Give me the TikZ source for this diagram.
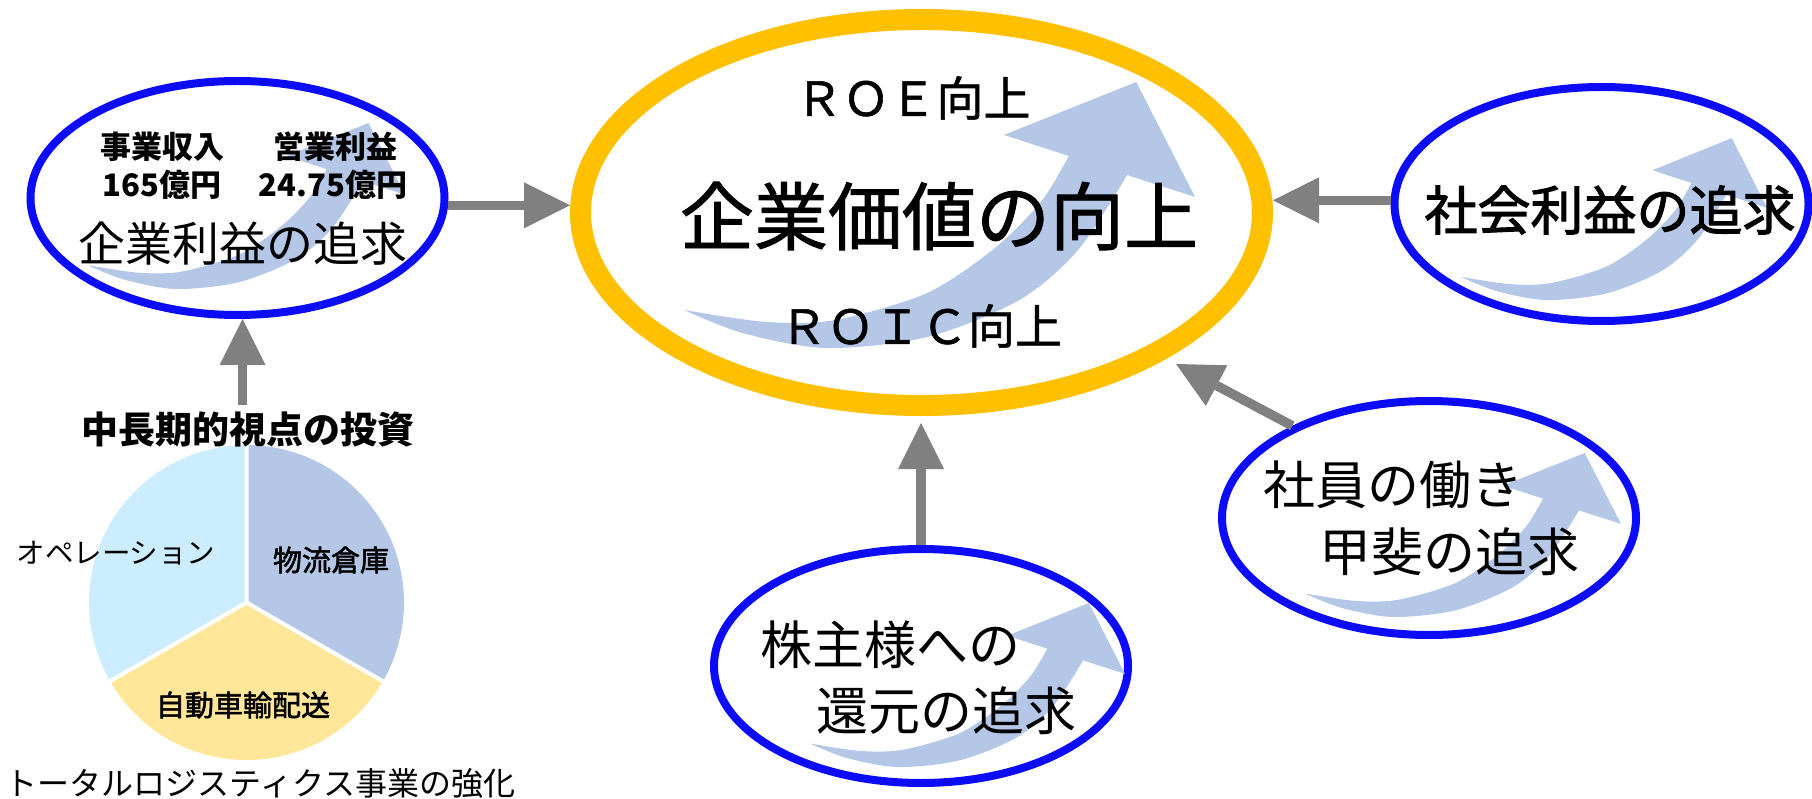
\documentclass[tikz,border=0pt]{standalone}
\usepackage{fontspec}
\setmainfont{Noto Sans CJK JP}
\newfontfamily\jpsemi[FakeBold=2]{Noto Sans CJK JP}
\newfontfamily\jpmid[FakeBold=1.2]{Noto Sans CJK JP}
\usetikzlibrary{arrows.meta,shapes.geometric}
\definecolor{ellblue}{RGB}{12,12,250}
\definecolor{ellyellow}{RGB}{255,192,0}
\definecolor{arrgray}{RGB}{128,128,128}
\definecolor{clipblue}{RGB}{180,199,231}
\definecolor{pieblue}{RGB}{204,236,255}
\definecolor{piesteel}{RGB}{180,199,231}
\definecolor{pieyellow}{RGB}{255,230,153}
\newcommand{\jfs}[1]{\fontsize{#1pt}{#1pt}\selectfont}
\newcommand{\mycurvearrow}[4]{%
  \begin{scope}[shift={(#1,#2)},xscale=#3,yscale=#4]
    \fill[clipblue] (0,0.857) -- plot[smooth] coordinates {(0,0.857) (0.115,0.944) (0.278,1.0) (0.476,0.959) (0.656,0.820) (0.771,0.632) (0.867,0.350)}
      -- (1,0.432) -- (0.885,0) -- (0.626,0.199)
      -- plot[smooth] coordinates {(0.753,0.278) (0.701,0.444) (0.611,0.620) (0.476,0.793) (0.295,0.895) (0.160,0.902) (0,0.857)} -- cycle;
  \end{scope}}
\begin{document}
\begin{tikzpicture}[x=1pt,y=-1pt,
  bluee/.style={ellipse,draw=ellblue,line width=8pt,minimum width=414pt,minimum height=234pt,inner sep=0pt},
  centere/.style={ellipse,draw=ellyellow,line width=21pt,minimum width=682pt,minimum height=386pt,inner sep=0pt},
  garr/.style={draw=arrgray,line width=9.5pt,-{Triangle[length=46pt,width=46pt,line width=0pt]}},
  txt/.style={inner sep=0pt,anchor=center,text=black}]
\useasboundingbox (0,0) rectangle (1812,799);
% ellipses
\node[bluee] (kigyo) at (237.5,198) {};
\node[centere] (kachi) at (921.5,212.5) {};
\node[bluee] (shakai) at (1601.5,204) {};
\node[bluee] (shain) at (1429,518) {};
\node[bluee] (kabu) at (921,666) {};
% decorative curved arrows
\mycurvearrow{88}{123}{317}{166}
\mycurvearrow{684}{82}{511}{266}
\mycurvearrow{1461}{138}{306}{162}
\mycurvearrow{1305}{453}{316}{164}
\mycurvearrow{810}{603}{315}{164}
% pie
\coordinate (pc) at (246.5,602.5);
\fill[pieblue] (pc) -- plot[domain=90:210,samples=60] ({246.5+157.5*cos(\x)},{602.5-157.5*sin(\x)}) -- cycle;
\fill[piesteel] (pc) -- plot[domain=-30:90,samples=60] ({246.5+157.5*cos(\x)},{602.5-157.5*sin(\x)}) -- cycle;
\fill[pieyellow] (pc) -- plot[domain=210:330,samples=60] ({246.5+157.5*cos(\x)},{602.5-157.5*sin(\x)}) -- cycle;
\draw[white,line width=4pt] (pc) -- ++(0,-158) (pc) -- ++({158*cos(210)},{-158*sin(210)}) (pc) -- ++({158*cos(330)},{-158*sin(330)});
% texts
\node[txt,font=\bfseries\jfs{31}] (t1) at (162,147) {事業収入};
\node[txt,font=\bfseries\jfs{31}] (t2) at (335,147) {営業利益};
\node[txt,font=\bfseries\jfs{31}] (t3) at (162,185) {165億円};
\node[txt,font=\bfseries\jfs{31}] (t4) at (333,185) {24.75億円};
\node[txt,font=\jfs{47}] (t5) at (243,244) {企業利益の追求};
\node[txt,font=\jpmid\jfs{47}] (t6) at (913,98) {ＲＯＥ向上};
\node[txt,font=\jpmid\jfs{74}] (t7) at (939,216) {企業価値の向上};
\node[txt,font=\jpmid\jfs{47}] (t8) at (921,326) {ＲＯＩＣ向上};
\node[txt,font=\jpsemi\jfs{53}] (t9) at (1610,210) {社会利益の追求};
\node[txt,font=\jfs{52}] (t10) at (1393,485) {社員の働き};
\node[txt,font=\jfs{52}] (t11) at (1449,552) {甲斐の追求};
\node[txt,font=\jfs{52}] (t12) at (890,645) {株主様への};
\node[txt,font=\jfs{52}] (t13) at (946,711) {還元の追求};
\node[txt,font=\bfseries\jfs{37}] (t14) at (248,430) {中長期的視点の投資};
\node[txt,font=\jfs{28.5}] (t15) at (116,553) {オペレーション};
\node[txt,font=\jpsemi\jfs{29}] (t16) at (331,560) {物流倉庫};
\node[txt,font=\jpsemi\jfs{29}] (t17) at (243,705) {自動車輸配送};
\node[txt,font=\jfs{32}] (t18) at (260.5,783) {トータルロジスティクス事業の強化};
% connectors
\coordinate (pietop) at (242.5,405);
\coordinate (shaintip) at (1176,364);
\draw[garr] (kigyo.-2) -- (kigyo.-2 -| kachi.west);
\draw[garr] (shakai.179) -- (shakai.179 -| kachi.east);
\draw[garr] (pietop) -- (pietop |- kigyo.south);
\draw[garr,shorten >=7pt] (kabu.north) -- (kabu.north |- kachi.south);
\draw[garr] (shain.146) -- (shaintip);
\end{tikzpicture}
\end{document}
